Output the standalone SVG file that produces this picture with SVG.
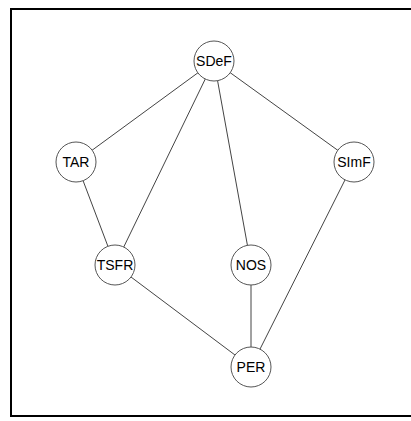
<svg xmlns="http://www.w3.org/2000/svg" width="411" height="421" viewBox="0 0 411 421">
<style>
.e{stroke:#444;stroke-width:1;fill:none}
.n circle{fill:#fff;stroke:#555;stroke-width:1}
.n text{font-family:"Liberation Sans",Arial,sans-serif;font-size:14px;fill:#000;text-anchor:middle;dominant-baseline:central}
</style>
<rect x="0" y="0" width="411" height="421" fill="#fff"/>
<path d="M11 417 V9 H413" fill="none" stroke="#000" stroke-width="2"/>
<path d="M11 416 H413" fill="none" stroke="#000" stroke-width="2"/>
<g id="edges">
<line class="e" x1="214" y1="61" x2="76" y2="162"/>
<line class="e" x1="214" y1="61" x2="115" y2="265"/>
<line class="e" x1="214" y1="61" x2="251" y2="265"/>
<line class="e" x1="214" y1="61" x2="354" y2="162"/>
<line class="e" x1="76" y1="162" x2="115" y2="265"/>
<line class="e" x1="354" y1="162" x2="251" y2="367"/>
<line class="e" x1="115" y1="265" x2="251" y2="367"/>
<line class="e" x1="251" y1="265" x2="251" y2="367"/>
</g>
<g id="SDeF" class="n"><circle cx="214" cy="61" r="20"/><text x="214" y="61">SDeF</text></g>
<g id="TAR" class="n"><circle cx="76" cy="162" r="20"/><text x="76" y="162">TAR</text></g>
<g id="SImF" class="n"><circle cx="354" cy="162" r="20"/><text x="354" y="162">SImF</text></g>
<g id="TSFR" class="n"><circle cx="115" cy="265" r="20"/><text x="115" y="265">TSFR</text></g>
<g id="NOS" class="n"><circle cx="251" cy="265" r="20"/><text x="251" y="265">NOS</text></g>
<g id="PER" class="n"><circle cx="251" cy="367" r="20"/><text x="251" y="367">PER</text></g>
</svg>
